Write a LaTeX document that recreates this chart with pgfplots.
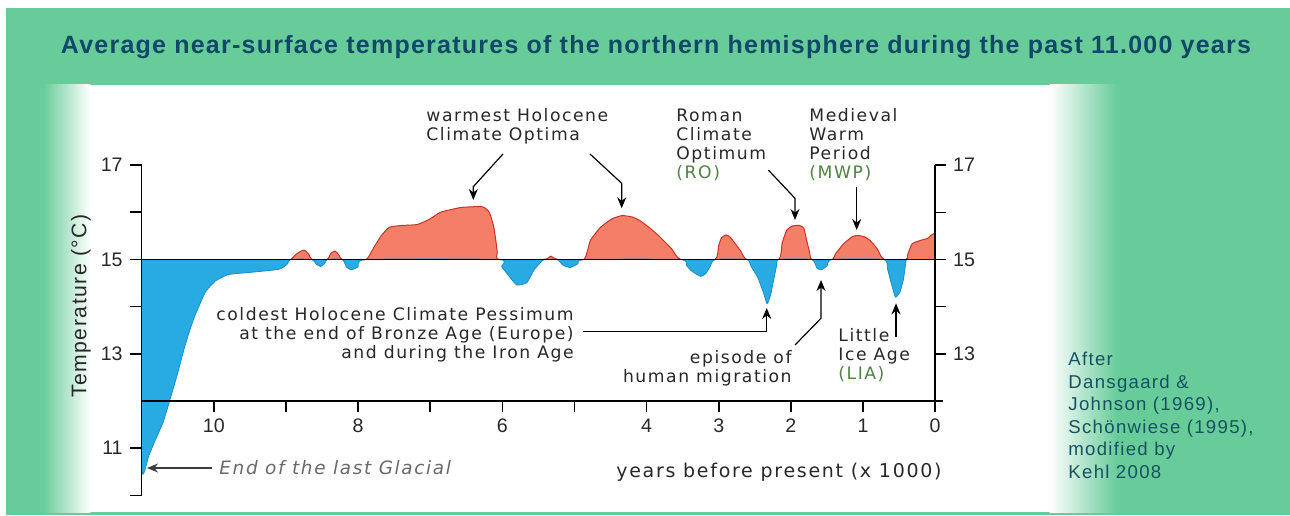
\documentclass[border=0pt]{standalone}
\usepackage{fontspec}
\setmainfont{DejaVu Sans}
\usepackage{pgfplots}
\usepackage{pgfplotstable}
\pgfplotsset{compat=1.18}
\usetikzlibrary{arrows.meta}
\newfontfamily\ann[LetterSpace=9]{DejaVu Sans}
\newfontfamily\titlefont[LetterSpace=5]{Liberation Sans}
\newfontfamily\arialsp[LetterSpace=7]{Liberation Sans}
\newfontfamily\arial{Liberation Sans}
\definecolor{bggreen}{RGB}{104,204,154}
\definecolor{titleblue}{RGB}{16,72,104}
\definecolor{warm}{RGB}{245,127,102}
\definecolor{warmline}{RGB}{200,50,40}
\definecolor{cold}{RGB}{40,170,226}
\definecolor{coldline}{RGB}{30,140,205}
\definecolor{anntext}{RGB}{40,40,40}
\definecolor{anngreen}{RGB}{80,130,70}
\definecolor{credit}{RGB}{22,82,98}
\definecolor{tickgray}{RGB}{40,40,40}

% parts of the temperature curve above 15 degC (closed along the 15 line)
\pgfplotstableread{
x t
8.93 15
8.85 15.12
8.75 15.20
8.68 15.10
8.64 15
8.43 15
8.38 15.12
8.32 15.18
8.26 15.08
8.22 15
7.89 15
7.78 15.26
7.68 15.50
7.57 15.68
7.40 15.72
7.18 15.74
7.00 15.86
6.86 16.00
6.58 16.10
6.35 16.12
6.26 16.11
6.18 16.00
6.12 15.70
6.09 15.40
6.07 15.15
6.05 15
5.42 15
5.33 15.07
5.24 15
4.87 15
4.78 15.40
4.64 15.68
4.48 15.86
4.34 15.93
4.20 15.90
4.09 15.82
3.95 15.66
3.81 15.47
3.65 15.22
3.53 15
3.05 15
3.00 15.30
2.96 15.46
2.90 15.52
2.84 15.47
2.70 15.19
2.61 15
2.17 15
2.12 15.35
2.06 15.61
1.98 15.71
1.88 15.72
1.82 15.66
1.78 15.40
1.74 15.15
1.71 15
1.43 15
1.38 15.12
1.27 15.33
1.15 15.48
1.08 15.51
0.98 15.48
0.90 15.40
0.80 15.22
0.71 15
0.40 15
0.38 15.10
0.32 15.33
0.21 15.40
0.10 15.45
0.00 15.55
0.00 15
}\warmdata

% parts of the temperature curve below 15 degC (closed along the 15 line)
\pgfplotstableread{
x t
11.00 15
11.00 10.55
10.90 10.85
10.82 11.14
10.70 11.56
10.61 12.02
10.51 12.54
10.40 13.17
10.28 13.74
10.12 14.30
9.98 14.54
9.80 14.68
9.47 14.73
9.10 14.79
8.99 14.89
8.93 15
8.64 15
8.58 14.90
8.52 14.85
8.46 14.92
8.43 15
8.22 15
8.16 14.84
8.10 14.78
8.00 14.84
7.89 15
6.05 15
6.01 14.85
5.94 14.71
5.80 14.46
5.66 14.51
5.56 14.78
5.48 14.92
5.42 15
5.24 15
5.16 14.88
5.06 14.83
4.95 14.91
4.87 15
3.53 15
3.45 14.88
3.38 14.76
3.25 14.64
3.18 14.70
3.12 14.85
3.05 15
2.61 15
2.55 14.85
2.46 14.62
2.38 14.30
2.33 14.06
2.28 14.25
2.24 14.55
2.20 14.85
2.17 15
1.71 15
1.64 14.82
1.58 14.78
1.50 14.86
1.43 15
0.71 15
0.66 14.80
0.60 14.45
0.55 14.20
0.49 14.30
0.44 14.57
0.40 15
}\colddata

\begin{document}
\begin{tikzpicture}
% background panels
\fill[white] (0pt,0pt) rectangle (645pt,257.5pt);
\fill[bggreen] (3pt,0pt) rectangle (645pt,253.5pt);
\fill[white] (45pt,1.5pt) rectangle (525pt,215pt);
\shade[left color=bggreen,right color=white] (21.5pt,1.5pt) rectangle (45.2pt,215pt);
\shade[left color=white,right color=bggreen] (524.8pt,1.5pt) rectangle (558.5pt,215pt);
% title
\node[anchor=base, inner sep=0pt, font=\titlefont\bfseries\fontsize{12.5}{14}\selectfont, text=titleblue]
  at (328pt,230.9pt) {Average near-surface temperatures of the northern hemisphere during the past 11.000 years};

% data axis with left y axis
\begin{axis}[
  at={(70.85pt,9.85pt)}, anchor=south west, scale only axis,
  width=396.7pt, height=165.1pt,
  xmin=0, xmax=11, x dir=reverse, ymin=10, ymax=17,
  axis x line=none, axis y line*=left,
  axis line style={line width=0.8pt, black},
  ytick={10,11,13,14,15,16,17}, yticklabels={,11,13,,15,,17},
  tick align=outside, major tick length=6pt,
  tick style={line width=0.8pt, black},
  /pgf/number format/assume math mode=true,
  yticklabel style={font=\arial\fontsize{9.8}{11}\selectfont, text=tickgray},
  clip=false, axis on top,
]
\addplot[fill=warm, draw=warmline, line width=0.5pt, line join=round, smooth, tension=0.3] table[x=x, y=t] {\warmdata};
\addplot[fill=cold, draw=coldline, line width=0.4pt, line join=round, smooth, tension=0.3] table[x=x, y=t] {\colddata};
\addplot[black, line width=0.8pt] coordinates {(11,15) (0,15)};
\end{axis}

% x axis at 12 and right y axis
\begin{axis}[
  at={(70.85pt,57pt)}, anchor=south west, scale only axis,
  width=396.7pt, height=117.9pt,
  xmin=0, xmax=11, x dir=reverse, ymin=12, ymax=17,
  axis x line*=bottom, axis y line*=right,
  axis line style={line width=0.8pt, black},
  xtick={0,...,10}, xticklabels={0,1,2,3,4,,6,,8,,10},
  ytick={13,...,17}, yticklabels={13,,15,,17},
  tick align=outside, major tick length=5.5pt,
  tick style={line width=0.8pt, black},
  /pgf/number format/assume math mode=true,
  ticklabel style={font=\arial\fontsize{9.8}{11}\selectfont, text=tickgray},
  clip=false,
]
\addplot[draw=none] coordinates {(5,14)};
\draw[line width=0.8pt] (axis cs:0,12) -- (axis cs:-0.11,12);
\end{axis}

% annotations in pixel coordinates
\begin{scope}[x=0.5pt, y=-0.5pt, shift={(0pt,257.5pt)}]
\tikzset{ann/.style={inner sep=0pt, font=\ann\fontsize{8.6}{9.5}\selectfont, text=anntext},
         arr/.style={line width=0.6pt, -{Stealth[length=5.5pt,width=4.5pt]}}}
\node[ann, anchor=north west, align=left] at (426,108.5) {warmest Holocene\\Climate Optima};
\node[ann, anchor=north west, align=left] at (676,108.5) {Roman\\Climate\\Optimum\\\textcolor{anngreen}{(RO)}};
\node[ann, anchor=north west, align=left] at (809,108.5) {Medieval\\Warm\\Period\\\textcolor{anngreen}{(MWP)}};
\node[ann, anchor=north east, align=right] at (574,307.5) {coldest Holocene Climate Pessimum\\at the end of Bronze Age (Europe)\\and during the Iron Age};
\node[ann, anchor=north east, align=right] at (792,350.5) {episode of\\human migration};
\node[ann, anchor=north west, align=left] at (838,328.5) {Little\\Ice Age\\\textcolor{anngreen}{(LIA)}};
\node[inner sep=0pt, anchor=west, font=\ann\itshape\fontsize{9.2}{11}\selectfont, text={rgb,255:red,105;green,105;blue,105}] at (219,468) {End of the last Glacial};
\node[inner sep=0pt, anchor=base east, font=\ann\fontsize{9.5}{11}\selectfont, text=anntext] at (942,477) {years before present (x 1000)};
\node[inner sep=0pt, rotate=90, font=\arialsp\fontsize{10.6}{12}\selectfont, text=tickgray] at (81,306) {Temperature (°C)};
\node[inner sep=0pt, anchor=north west, align=left, font=\arialsp\fontsize{9.3}{11.25}\selectfont, text=credit] at (1068,352) {After\\Dansgaard \&\\Johnson (1969),\\Schönwiese (1995),\\modified by\\Kehl 2008};
% arrows
\draw[arr, draw={rgb,255:red,60;green,60;blue,60}] (212,468) -- (147,468);
\draw[arr] (503,154) -- (473.3,186.7) -- (473.3,200);
\draw[arr] (590,154) -- (621.7,183.3) -- (621.7,208.3);
\draw[arr] (768.3,170) -- (795,198.3) -- (795,220);
\draw[arr] (856.7,187.3) -- (856.7,230);
\draw[arr] (583.3,331.7) -- (766.7,331.7) -- (766.7,308);
\draw[arr] (795,345) -- (821,318.3) -- (821,280);
\draw[arr] (896,336.7) -- (896,303.3);
\end{scope}

\pgfresetboundingbox
\useasboundingbox (0pt,0pt) rectangle (645pt,257.5pt);
\end{tikzpicture}
\end{document}
